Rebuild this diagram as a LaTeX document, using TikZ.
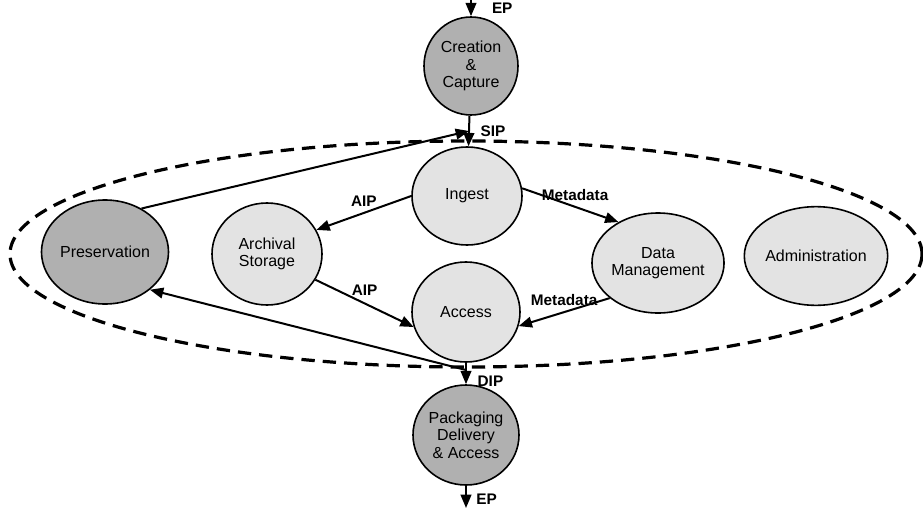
\documentclass[tikz,border=0pt]{standalone}
\usepackage{fontspec}
\setmainfont{Liberation Sans}
\usetikzlibrary{shapes.geometric, arrows.meta}

\begin{document}
\begin{tikzpicture}[x=0.75pt, y=-0.75pt,
  proc/.style={ellipse, draw, line width=1.2pt, fill=gray!22, inner sep=0pt,
    align=center, font=\fontsize{12}{13}\selectfont},
  outer/.style={proc, fill=gray!62},
  flow/.style={line width=1.5pt, -{Triangle[length=10pt,width=8pt]}},
  lbl/.style={font=\bfseries\fontsize{11.5}{12}\selectfont, inner sep=1pt},
  boundary/.style={line width=2.4pt, dash pattern=on 10pt off 6pt}]

  \useasboundingbox (0,0) rectangle (923,510);

  % the archive
  \draw[boundary] (466,254) ellipse [x radius=456, y radius=113];

  \node[outer, minimum width=70.5pt, minimum height=73.5pt] (capture) at (471,66) {Creation\\\&\\Capture};
  \node[proc, minimum width=82.5pt, minimum height=73.5pt] (ingest) at (467,196) {Ingest};
  \node[proc, minimum width=82.5pt, minimum height=76.5pt] (store) at (267,254) {Archival\\Storage};
  \node[proc, minimum width=81pt, minimum height=75pt] (access) at (466,312) {Access};
  \node[proc, minimum width=82.5pt, minimum height=75pt] (dataman) at (658,263) {Data\\Management};
  \node[proc, minimum width=81pt, minimum height=74pt] (admin) at (816,256) {Administration};
  \node[outer, minimum width=81pt, minimum height=78pt] (preserve) at (105,252) {Preservation};
  \node[outer, minimum width=79.5pt, minimum height=75pt] (deliver) at (466,435) {Packaging\\Delivery\\\& Access};

  \coordinate (epin) at (471,0);
  \coordinate (epout) at (466,508);
  \coordinate (sipjoin) at (469,131);
  \coordinate (dipjoin) at (466,370);

  % packages
  \draw[flow] (epin) -- node[lbl, right=14pt] {EP} (capture);
  \draw[flow] (capture) -- node[lbl, right=7pt] {SIP} (ingest);
  \draw[flow] (access) -- node[lbl, right=7pt, pos=0.85] {DIP} (deliver);
  \draw[flow] (deliver) -- node[lbl, right=6pt, pos=0.6] {EP} (epout);

  \draw[flow] (ingest.west) -- node[lbl, above=3pt] {AIP} (store.26);
  \draw[flow] (ingest.8) -- node[lbl, above=3pt, pos=0.55] {Metadata} (dataman.134);
  \draw[flow] (store.-28) -- node[lbl, above=4pt] {AIP} (access.196);
  \draw[flow] (dataman.216) -- node[lbl, above=3pt] {Metadata} (access.-15);

  \draw[flow] (preserve.50) -- (sipjoin);
  \draw[flow] (dipjoin) -- (preserve.-40);
\end{tikzpicture}
\end{document}
